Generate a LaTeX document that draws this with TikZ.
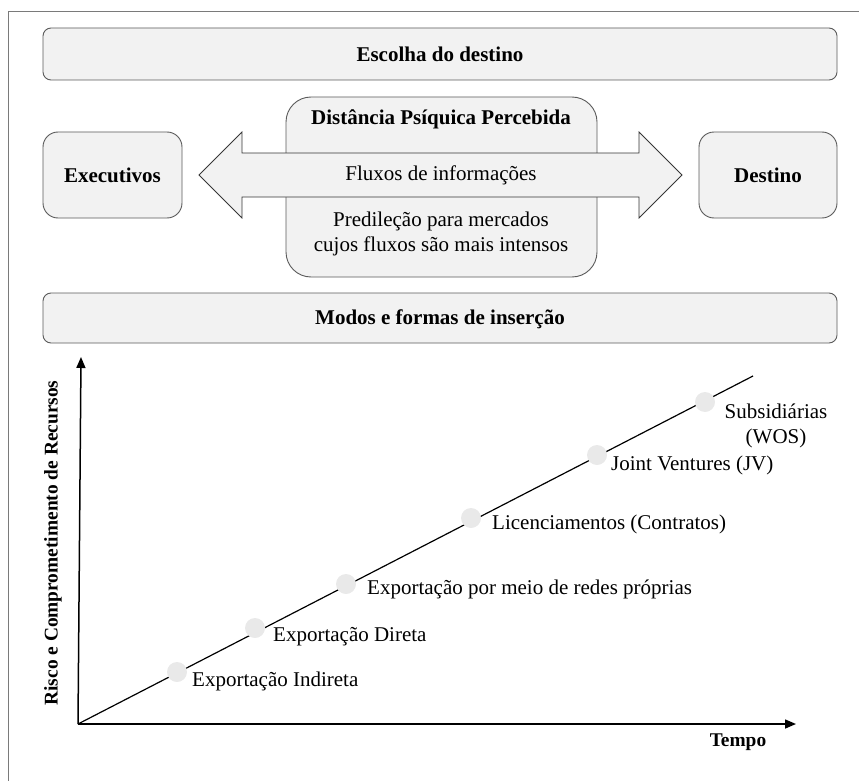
\documentclass[tikz,border=0pt]{standalone}
\usepackage{fontspec}
\setmainfont{Liberation Serif}
\usetikzlibrary{arrows.meta}
\definecolor{boxfill}{HTML}{F2F2F2}
\definecolor{boxline}{HTML}{5A5A5A}
\definecolor{dotfill}{HTML}{E9E9E9}
\definecolor{framecol}{HTML}{7A7A7A}
\tikzset{
  bigbox/.style={draw=boxline, line width=0.9pt, fill=boxfill, rounded corners=8pt},
  sidebox/.style={draw=boxline, line width=0.9pt, fill=boxfill, rounded corners=15pt},
  mainfont/.style={font=\fontsize{21}{25}\selectfont},
  boldfont/.style={font=\fontsize{21}{25}\selectfont\bfseries},
  axisfont/.style={font=\fontsize{19.4}{23}\selectfont\bfseries},
  stagedot/.style={circle, fill=dotfill, minimum size=20pt, inner sep=0pt},
  stagelabel/.style={mainfont, anchor=west, inner sep=0pt},
  axisline/.style={line width=1.5pt, -{Triangle[length=11pt,width=9pt]}},
}
\begin{document}
\begin{tikzpicture}[x=1pt,y=-1pt]
\useasboundingbox (0,0) rectangle (859,781);
% frame (top and left edges)
\draw[framecol, line width=0.8pt] (859,11) -- (8,11) -- (8,781);

% top box
\draw[bigbox] (43,28) rectangle (837,80);
\node[boldfont] (escolha) at (440,54) {Escolha do destino};

% side boxes
\draw[sidebox] (43,132) rectangle (182,218);
\node[boldfont] (exec) at (112.5,175) {Executivos};
\draw[sidebox] (699,132) rectangle (837,218);
\node[boldfont] (dest) at (768,175) {Destino};

% center box
\draw[draw=boxline, line width=0.9pt, fill=boxfill, rounded corners=25pt] (286,97) rectangle (597,277);
\node[boldfont] (dist) at (441,119) {Distância Psíquica Percebida};

% double arrow
\draw[draw=boxline!60!black, line width=0.8pt, fill=boxfill]
  (199,175) -- (242,132) -- (242,153) -- (639,153) -- (639,132) -- (682,175)
  -- (639,218) -- (639,197) -- (242,197) -- (242,218) -- cycle;
\node[mainfont] (fluxos) at (441,175) {Fluxos de informações};
\node[mainfont, align=center] (pred) at (441,234) {Predileção para mercados\\cujos fluxos são mais intensos};

% bottom box
\draw[bigbox] (43,293) rectangle (837,343);
\node[boldfont] (modos) at (440,319) {Modos e formas de inserção};

% axes
\coordinate (origin) at (78,724);
\coordinate (ytop) at (81,357);
\coordinate (xend) at (796,724);
\coordinate (diagend) at (753,376);
\draw[axisline] (origin) -- (ytop);
\draw[axisline] (origin) -- (xend);
\draw[line width=1.2pt] (origin) -- (diagend);

\node[axisfont, rotate=90] (ylab) at (53,543) {Risco e Comprometimento de Recursos};
\node[axisfont] (tempo) at (738,742) {Tempo};

% stages
\node[stagedot] (d1) at (177,672) {};
\node[stagedot] (d2) at (255,628) {};
\node[stagedot] (d3) at (346,584) {};
\node[stagedot] (d4) at (471,518) {};
\node[stagedot] (d5) at (597,455) {};
\node[stagedot] (d6) at (705,402) {};

\node[stagelabel] (l1) at (192,681) {Exportação Indireta};
\node[stagelabel] (l2) at (273,637) {Exportação Direta};
\node[stagelabel] (l3) at (367,589) {Exportação por meio de redes próprias};
\node[stagelabel] (l4) at (492,524) {Licenciamentos (Contratos)};
\node[stagelabel] (l5) at (611,465) {Joint Ventures (JV)};
\node[mainfont, align=center, inner sep=0pt] (l6) at (776,426) {Subsidiárias\\(WOS)};
\end{tikzpicture}
\end{document}
